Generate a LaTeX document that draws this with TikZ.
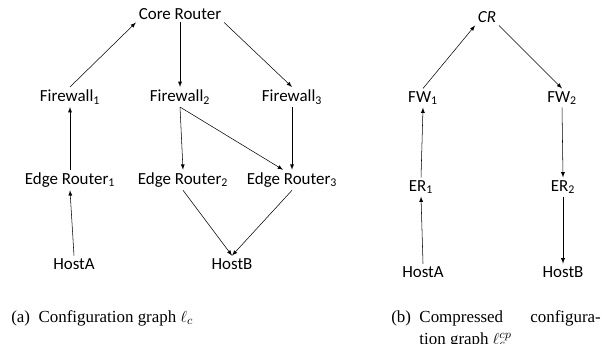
\documentclass[tikz,border=0pt]{standalone}
\usepackage{fontspec}
\setmainfont{Liberation Serif}
\newfontfamily\calibri{Carlito}
\usetikzlibrary{calc}

\begin{document}
\begin{tikzpicture}[x=0.75pt,y=-0.75pt,
	dev/.style={inner sep=2pt,font=\calibri\fontsize{12.7}{15}\selectfont},
	subcap/.style={inner sep=0pt,font=\fontsize{12.7}{16.5}\selectfont},
	>=latex, line width=0.4pt]
	\useasboundingbox (0,0) rectangle (605,343);
	% (a) configuration graph
	\draw (180,14) node[dev] (CR) {Core Router};
	\draw (70,97) node[dev] (FW1) {Firewall\textsubscript{1}}
	(180,97) node[dev] (FW2) {Firewall\textsubscript{2}}
	(292,97) node[dev] (FW3) {Firewall\textsubscript{3}};
	\draw (70,180) node[dev] (ER1) {Edge Router\textsubscript{1}}
	(183,180) node[dev] (ER2) {Edge Router\textsubscript{2}}
	(292,180) node[dev] (ER3) {Edge Router\textsubscript{3}};
	\draw (74,264) node[dev] (HA) {HostA} (232,264) node[dev] (HB) {HostB};
	\draw[->] (FW1.north) -- (CR.south west);
	\draw[->] (CR.south) -- (FW2.north); \draw[->] (CR.south east) -- (FW3.north);
	\draw[->] (ER1.north) -- (FW1.south);
	\draw[->] (FW2.south) -- (ER2.north);
	\draw[->] (FW2.south) -- ($(ER3.north)+(-9,0)$);
	\draw[->] (FW3.south) -- (ER3.north);
	\draw[->] (ER2.south) -- (HB.north); \draw[->] (ER3.south) -- (HB.north);
	\draw[->] (HA.north) -- (ER1.south);
	% (b) compressed graph
	\draw (487,17) node[dev] (cCR) {\itshape CR};
	\draw (423,98) node[dev] (cFW1) {FW\textsubscript{1}}
	(562,98) node[dev] (cFW2) {FW\textsubscript{2}};
	\draw (421,187) node[dev] (cER1) {ER\textsubscript{1}}
	(563,187) node[dev] (cER2) {ER\textsubscript{2}};
	\draw (423,272) node[dev] (cHA) {HostA} (563,272) node[dev] (cHB) {HostB};
	\draw[->] (cFW1.north) -- (cCR.south west);
	\draw[->] (cCR.south east) -- (cFW2.north);
	\draw[->] (cER1.north) -- (cFW1.south);
	\draw[->] (cFW2.south) -- (cER2.north);
	\draw[->] (cHA.north) -- (cER1.south);
	\draw[->] (cER2.south) -- (cHB.north);
	% captions
	\node[subcap,anchor=base west] (capA) at (11,322) {(a)\hspace{0.5em}Configuration graph $\ell_c$};
	\node[subcap,anchor=base west] (capB) at (391,322)
	{\begin{tabular}[t]{@{}l@{\hspace{0.5em}}l@{}}
	(b) & \makebox[136pt][s]{Compressed configura-}\\
	& tion graph $\ell_c^{cp}$
	\end{tabular}};
\end{tikzpicture}
\end{document}
